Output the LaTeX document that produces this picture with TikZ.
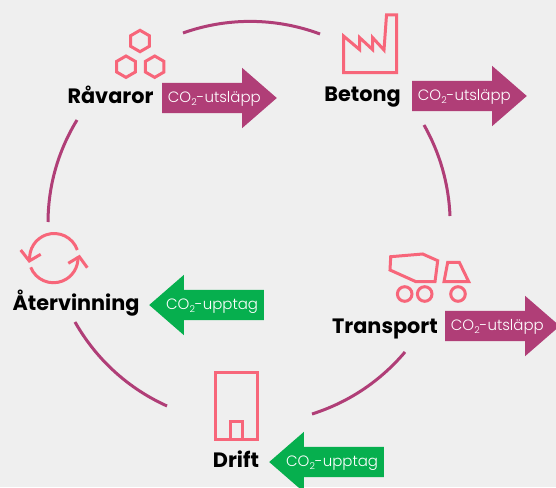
\documentclass[tikz,border=0pt]{standalone}
\usepackage{fontspec}
\setmainfont{Poppins}
\newfontfamily\flowfont{Poppins Light}
\usetikzlibrary{shapes.arrows,shapes.geometric}

\definecolor{bgcol}{HTML}{EFEFEF}
\definecolor{ringcol}{HTML}{B03E77}
\definecolor{iconcol}{HTML}{F7667A}
\definecolor{upcol}{HTML}{06AF4E}

\newcommand{\cotwo}{CO\raisebox{-3pt}{\fontsize{9.5}{9.5}\selectfont 2}}
\newcommand{\utslapp}{\makebox[96.7pt][l]{\hspace*{5.5pt}\cotwo-utsläpp}}
\newcommand{\upptag}{\makebox[96.7pt][r]{\cotwo-upptag\hspace*{5.5pt}}}

\tikzset{
    ring/.style={line width=3pt, ringcol},
    icon/.style={line width=3pt, iconcol},
    stage/.style={anchor=base, inner sep=0pt, font=\fontsize{20.8}{20.8}\selectfont\bfseries},
    flow/.style={single arrow, anchor=tail, inner sep=0pt, text=white, font=\flowfont\fontsize{15}{15}\selectfont,
        text height=19.5pt, text depth=10.5pt,
        minimum width=60pt, minimum height=114pt, single arrow head extend=15pt,
        single arrow tip angle=82, single arrow head indent=0pt},
    flowout/.style={flow, fill=ringcol},
    flowin/.style={flow, fill=upcol, shape border rotate=180},
    hex/.style={regular polygon, regular polygon sides=6, shape border rotate=30, draw=iconcol,
        line width=3pt, minimum size=21.4pt, inner sep=0pt, outer sep=0pt},
    wheel/.style={circle, draw=iconcol, line width=3pt, minimum size=14.6pt, inner sep=0pt, outer sep=0pt}
}

\begin{document}
\begin{tikzpicture}[x=1pt, y=-1pt]
    \fill [bgcol] (0,0) rectangle (556,487);
    \useasboundingbox (0,0) rectangle (556,487);

    \coordinate (r1) at (183,33);
    \coordinate (r2) at (320,34);
    \coordinate (r3) at (424,125);
    \coordinate (r4) at (450,216);
    \coordinate (r5) at (405,352);
    \coordinate (r6) at (312,414);
    \coordinate (r7) at (167,406);
    \coordinate (r8) at (75,322);
    \coordinate (r9) at (48,222);
    \coordinate (r10) at (77,120);

    \draw [ring] (r1) to[bend left=20, looseness=0.88] (r2);
    \draw [ring] (r3) to[bend left=13.5, looseness=0.88] (r4);
    \draw [ring] (r5) to[bend left=16, looseness=0.88] (r6);
    \draw [ring] (r7) to[bend left=18, looseness=0.88] (r8);
    \draw [ring] (r9) to[bend left=15.5, looseness=0.88] (r10);

    \node[stage] (ravaror)     at (110.5,103) {Råvaror};
    \node[stage] (betong)      at (362.5,101) {Betong};
    \node[stage] (transport)   at (385,333)   {Transport};
    \node[stage] (drift)       at (236,467)   {Drift};
    \node[stage] (atervinning) at (76,310)    {Återvinning};

    \node[flowout] (utslapp1) at (162,98)  {\utslapp};
    \node[flowout] (utslapp2) at (412,96)  {\utslapp};
    \node[flowout] (utslapp3) at (445,326) {\utslapp};
    \node[flowin]  (upptag1)  at (264,305) {\upptag};
    \node[flowin]  (upptag2)  at (384,462) {\upptag};

    % raw materials
    \node[hex] (hex1) at (140,41) {};
    \node[hex] (hex2) at (126,66.7) {};
    \node[hex] (hex3) at (154.7,66.7) {};

    % factory
    \draw [icon, miter limit=4] (343.5,72.5) -- (343.5,36) -- (359.5,49.5) -- (359.5,37.5) -- (372.5,49.5)
        -- (372.5,37.5) -- (384,50) -- (386.5,15) -- (396.5,15) -- (396.5,72.5) -- cycle;

    % truck
    \draw [icon] (390.7,256.7) -- (422.7,254) -- (437.7,260.7) -- (435,281.7) -- (416,281.7) -- (390,270) -- cycle;
    \draw [icon] (444,281.7) -- (447.7,262.3) -- (459.3,262.3) -- (468.7,281.7) -- cycle;
    \node[wheel] (wheel1) at (404.7,294) {};
    \node[wheel] (wheel2) at (424.7,294) {};
    \node[wheel] (wheel3) at (458,294) {};

    % building
    \draw [icon] (215.3,372.3) rectangle (257.3,439.7);
    \draw [icon] (230.7,439.7) -- (230.7,421.7) -- (242,421.7) -- (242,439.7);

    % recycling
    \coordinate (c1) at (77.3,250);
    \coordinate (c2) at (30.7,267.3);
    \draw [icon] (c1) arc[start angle=19, end angle=186, radius=24.5pt];
    \draw [icon] (c2) arc[start angle=201.7, end angle=363.5, radius=24.5pt];
    \draw [icon] (20.7,250) -- (29.3,261) -- (40.7,254.3);
    \draw [icon] (68.3,263.3) -- (79.3,256.7) -- (87.3,267.7);
\end{tikzpicture}
\end{document}
